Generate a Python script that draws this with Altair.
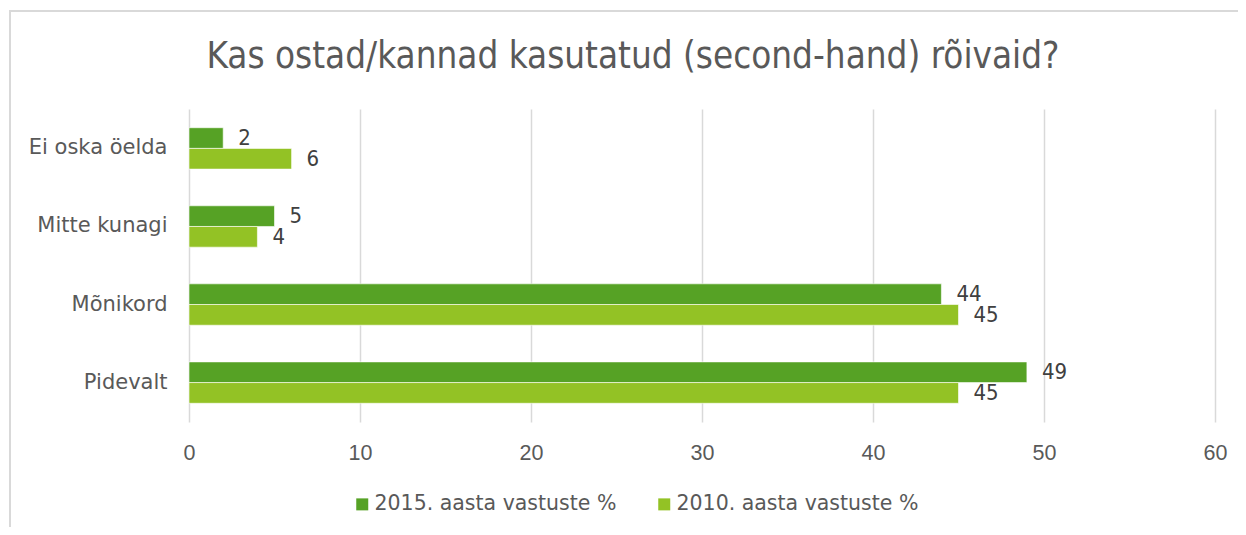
import altair as alt
import pandas as pd

categories = ["Ei oska öelda", "Mitte kunagi", "Mõnikord", "Pidevalt"]
series = ["2015. aasta vastuste %", "2010. aasta vastuste %"]
values_2015 = [2, 5, 44, 49]
values_2010 = [6, 4, 45, 45]
x_ticks = [0, 10, 20, 30, 40, 50, 60]
title_text = "Kas ostad/kannad kasutatud (second-hand) rõivaid?"

rows = []
for c, a, b in zip(categories, values_2015, values_2010):
    rows.append({"cat": c, "series": series[0], "value": a})
    rows.append({"cat": c, "series": series[1], "value": b})
df = pd.DataFrame(rows)

FONT = "DejaVu Sans"
TFONT = "DejaVu Sans Condensed"
XFONT = "Liberation Sans"
GREY = "#595959"
colors = ["#56A225", "#93C225"]

base = alt.Chart(df).encode(
    y=alt.Y("cat:N", sort=categories, title=None,
            scale=alt.Scale(paddingInner=0.47, paddingOuter=0.24),
            axis=alt.Axis(labelFontSize=21, labelColor=GREY, labelFont=FONT,
                          ticks=False, domain=False, labelPadding=22, labelLimit=0)),
    yOffset=alt.YOffset("series:N", sort=series),
)

bars = base.mark_bar(stroke="white", strokeWidth=0.6).encode(
    x=alt.X("value:Q", title=None,
            scale=alt.Scale(domain=[0, 60], nice=False),
            axis=alt.Axis(values=x_ticks, labelFontSize=21.5, labelColor=GREY, labelFont=XFONT,
                          grid=True, gridColor="#d9d9d9", gridWidth=1.5, labelFlush=False,
                          domain=False, ticks=False, labelPadding=20)),
    color=alt.Color("series:N", sort=series,
                    scale=alt.Scale(domain=series, range=colors),
                    legend=alt.Legend(title=None, orient="none", direction="horizontal",
                                      legendX=163, legendY=385,
                                      symbolType="square", symbolSize=144,
                                      symbolStrokeWidth=0, labelLimit=0,
                                      labelFontSize=20.5, labelColor=GREY, labelFont=FONT,
                                      columnPadding=37, labelOffset=2)),
)

labels = base.mark_text(align="left", baseline="middle", dx=15, fontSize=22,
                        color="#404040", font=TFONT).encode(
    x="value:Q",
    text="value:Q",
)

frame = alt.Chart(pd.DataFrame({"a": [0]})).mark_rect(
    fill=None, stroke="#d9d9d9", strokeWidth=2, clip=False
).encode(
    x=alt.value(-179), x2=alt.value(1300), y=alt.value(-98), y2=alt.value(600)
)

title = alt.Chart(pd.DataFrame({"t": [title_text]})).mark_text(
    font=TFONT, fontSize=36.5, color=GREY, align="center", baseline="middle"
).encode(x=alt.value(444), y=alt.value(-52), text="t:N")

chart = alt.layer(frame, bars, labels, title).properties(
    width=1026, height=313,
    autosize=alt.AutoSizeParams(type="none"),
    padding={"left": 181, "top": 101, "right": 23, "bottom": 105},
).configure_view(stroke=None)

chart.save("out.html", embed_options={"renderer": "svg", "actions": False})
